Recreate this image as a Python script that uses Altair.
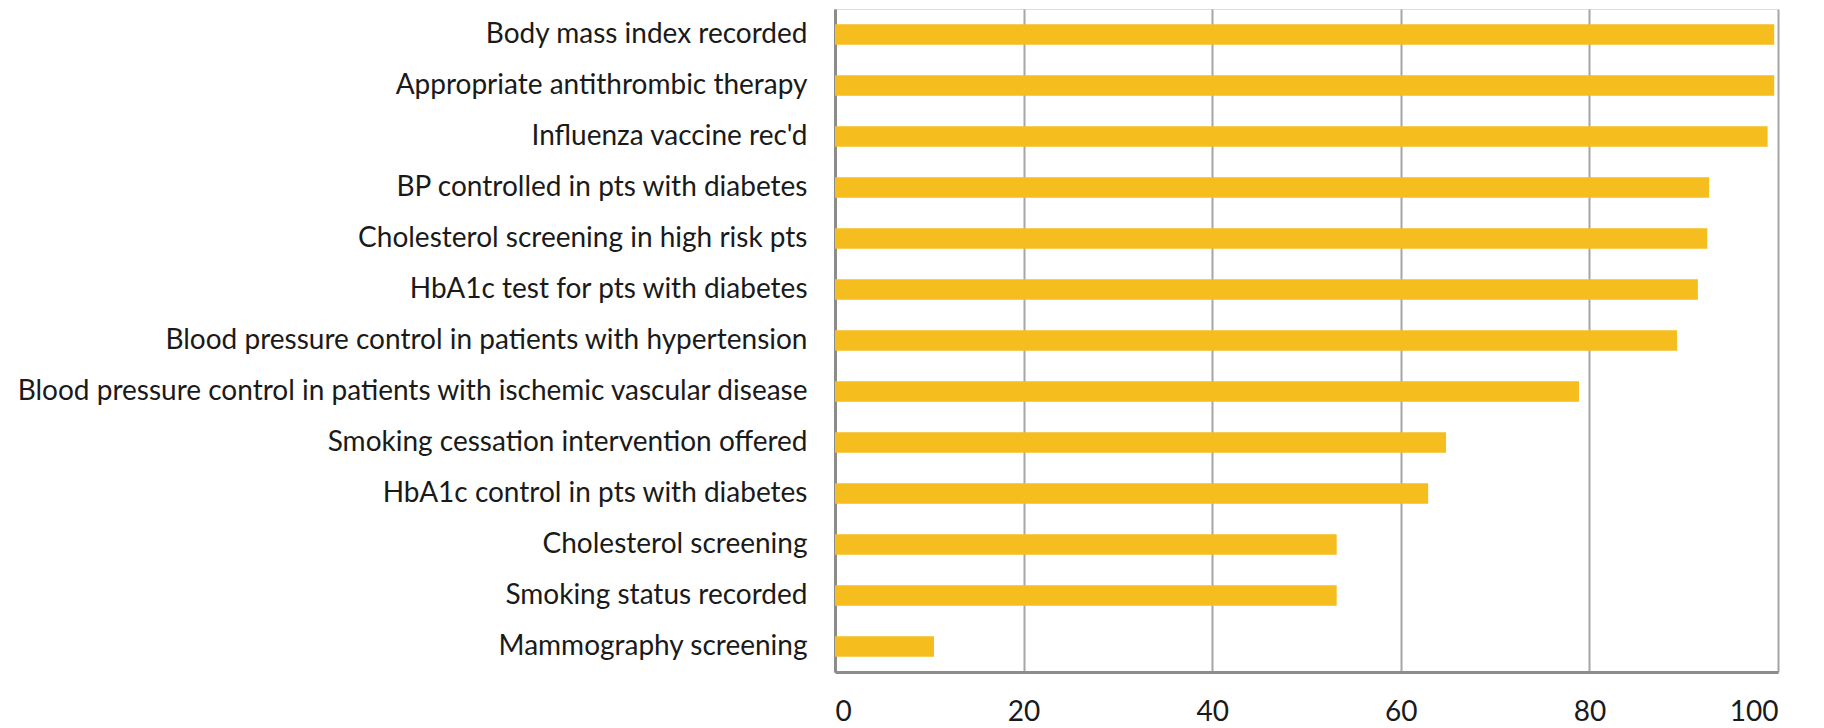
import altair as alt
import pandas as pd

categories = [
    "Body mass index recorded",
    "Appropriate antithrombic therapy ",
    "Influenza vaccine rec'd",
    "BP controlled in pts with diabetes",
    "Cholesterol screening in high risk pts",
    "HbA1c test for pts with diabetes",
    "Blood pressure control in patients with hypertension",
    "Blood pressure control in patients with ischemic vascular disease",
    "Smoking cessation intervention offered",
    "HbA1c control in pts with diabetes",
    "Cholesterol screening",
    "Smoking status recorded",
    "Mammography screening",
]
values = [99.6, 99.6, 98.9, 92.7, 92.5, 91.5, 89.3, 78.9, 64.8, 62.9, 53.2, 53.2, 10.5]
x_ticks = [0, 20, 40, 60, 80, 100]

df = pd.DataFrame({"measure": categories, "value": values})

FONT = "Lato"

chart = (
    alt.Chart(df)
    .mark_bar(color="#F6BD1F")
    .encode(
        x=alt.X(
            "value:Q",
            scale=alt.Scale(domain=[0, 100], nice=False),
            axis=alt.Axis(
                values=x_ticks,
                title=None,
                grid=True,
                gridColor="#A6A6A6",
                gridWidth=2,
                ticks=False,
                domainColor="#8C8C8C",
                domainWidth=3,
                labelFont=FONT,
                labelFontSize=28,
                labelColor="#1a1a1a",
                labelPadding=26,
            ),
        ),
        y=alt.Y(
            "measure:N",
            sort=categories,
            scale=alt.Scale(paddingInner=0.6, paddingOuter=0.3),
            axis=alt.Axis(
                title=None,
                ticks=False,
                domainColor="#8C8C8C",
                domainWidth=3,
                labelFont=FONT,
                labelFontSize=28,
                labelColor="#1a1a1a",
                labelPadding=28,
                labelLimit=1000,
            ),
        ),
    )
    .properties(
        width=943,
        height=663,
        autosize=alt.AutoSizeParams(type="none"),
        padding={"left": 827, "top": 1, "right": 38, "bottom": 56},
    )
    .configure_view(stroke=None)
    .configure(background="white")
)

chart.save("out.html", embed_options={"renderer": "svg", "actions": False})
